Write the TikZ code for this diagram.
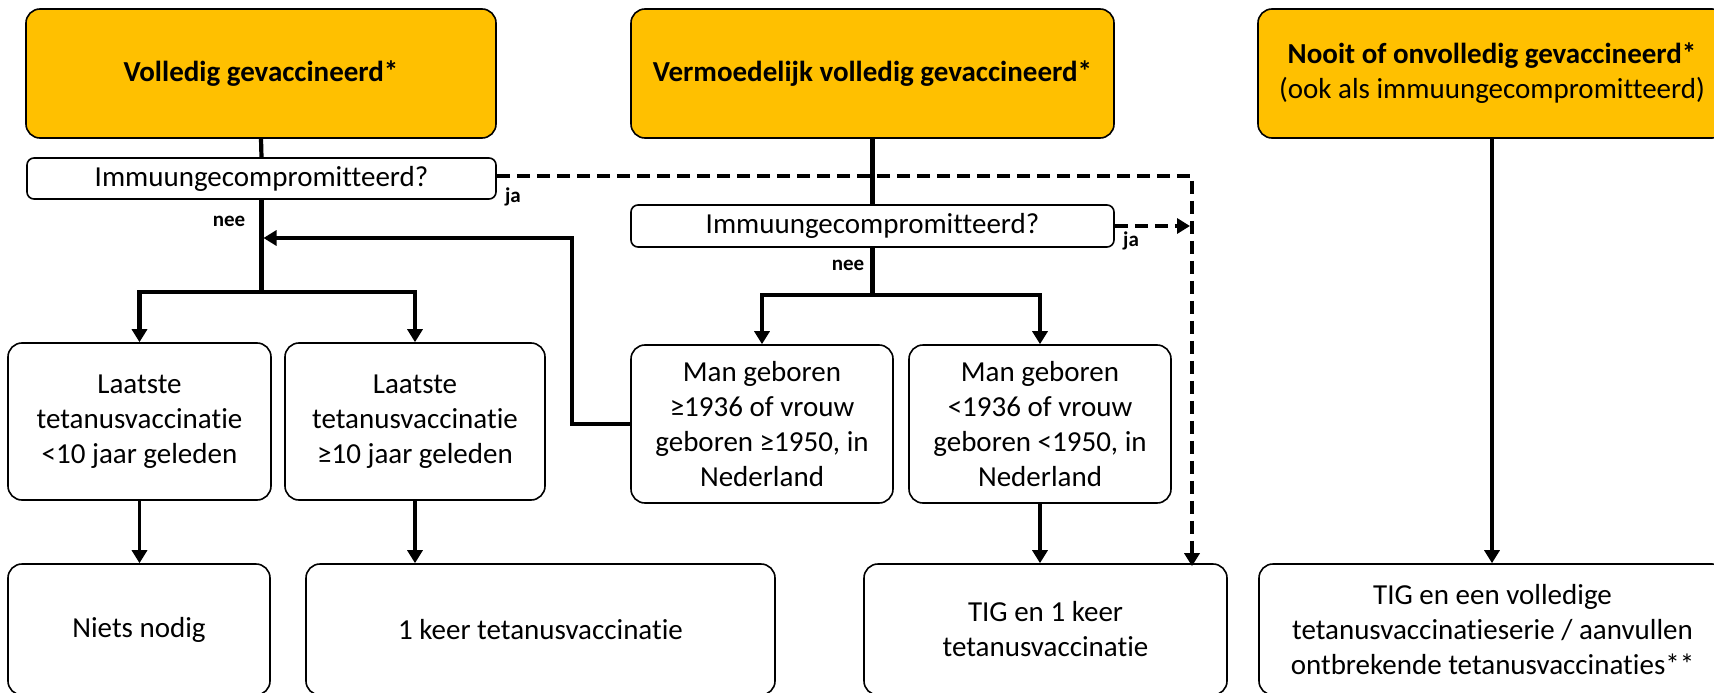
\documentclass[tikz,border=0pt]{standalone}
\usepackage{fontspec}
\setmainfont{Carlito}[Ligatures=NoCommon]
\usetikzlibrary{arrows.meta}
\definecolor{gold}{HTML}{FFC000}
\tikzset{
  box/.style={draw=black, line width=1.6pt, rounded corners=14pt, inner sep=0pt, align=center,
    font=\fontsize{29}{35}\selectfont},
  hbox/.style={box, fill=gold},
  qbox/.style={box, rounded corners=7pt},
  conn/.style={line width=4.2pt},
  thinconn/.style={line width=3.2pt},
  dconn/.style={line width=4.2pt, dash pattern=on 13pt off 7pt},
  arr/.style={-{Triangle[length=13pt,width=15pt]}},
  lbl/.style={inner sep=0pt, font=\bfseries\fontsize{21}{25}\selectfont},
}
\begin{document}
\begin{tikzpicture}[x=1pt,y=-1pt]
\useasboundingbox (0,0) rectangle (1714,693);

% header boxes
\node[hbox, minimum width=470pt, minimum height=129pt] (A) at (261,73.5) {\textbf{Volledig gevaccineerd*}};
\node[hbox, minimum width=483pt, minimum height=129pt] (B) at (872.5,73.5) {\textbf{Vermoedelijk volledig gevaccineerd*}};
\node[hbox, minimum width=468pt, minimum height=129pt] (C) at (1492,73.5) {\textbf{Nooit of onvolledig gevaccineerd*}\\(ook als immuungecompromitteerd)};

% question boxes
\node[qbox, minimum width=469pt, minimum height=41pt] (Q1) at (261.5,178.5) {Immuungecompromitteerd?};
\node[qbox, minimum width=483pt, minimum height=42pt] (Q2) at (872.5,226) {Immuungecompromitteerd?};

% middle boxes
\node[box, minimum width=263pt, minimum height=157pt] (L1) at (139.5,421.5) {Laatste\\tetanusvaccinatie\\<10 jaar geleden};
\node[box, minimum width=260pt, minimum height=157pt] (L2) at (415,421.5) {Laatste\\tetanusvaccinatie\\≥10 jaar geleden};
\node[box, minimum width=262pt, minimum height=158pt] (M1) at (762,424) {Man geboren\\≥1936 of vrouw\\geboren ≥1950, in\\Nederland};
\node[box, minimum width=262pt, minimum height=158pt] (M2) at (1040,424) {Man geboren\\<1936 of vrouw\\geboren <1950, in\\Nederland};

% bottom boxes
\node[box, minimum width=262pt, minimum height=131pt] (N) at (139,629.5) {Niets nodig};
\node[box, minimum width=469pt, minimum height=131pt] (K) at (540.5,629.5) {1 keer tetanusvaccinatie};
\node[box, minimum width=363pt, minimum height=131pt] (T1) at (1045.5,629.5) {TIG en 1 keer\\tetanusvaccinatie};
\node[box, minimum width=467pt, minimum height=131pt] (T2) at (1492.5,629.5) {TIG en een volledige\\tetanusvaccinatieserie / aanvullen\\ontbrekende tetanusvaccinaties**};

% labels
\node[lbl] (ja1) at (513,197) {ja};
\node[lbl] (ja2) at (1131,241) {ja};
\node[lbl] (nee1) at (229,221) {nee};
\node[lbl] (nee2) at (848,265) {nee};

% helper coordinates
\coordinate (j1) at (261.5,292);
\coordinate (j2) at (872.5,295);
\coordinate (r1) at (572,238);
\coordinate (d1) at (1192,176);

% dashed "ja" paths
\draw[dconn, arr] (Q1.east |- d1) -- (d1) -- ([yshift=-3pt]d1 |- T1.north);
\draw[dconn, arr] (Q2.east) -- ([xshift=-2pt]d1 |- Q2.east);

% solid connectors
\draw[conn] (A.south) -- (Q1.north);
\draw[conn] (B.south) -- (Q2.north);
\draw[conn] (Q1.south) -- (j1);
\draw[conn, arr] (j1) -| (L1.north);
\draw[conn, arr] (j1) -| (L2.north);
\draw[conn] (Q2.south) -- (j2);
\draw[conn, arr] (j2) -| (M1.north);
\draw[conn, arr] (j2) -| (M2.north);
\draw[conn, arr] (M1.west) -| (r1) -- ([xshift=2pt]Q1.south |- r1);

\draw[thinconn, arr] (L1.south) -- (L1.south |- N.north);
\draw[thinconn, arr] (L2.south) -- (L2.south |- K.north);
\draw[thinconn, arr] (M2.south) -- (M2.south |- T1.north);
\draw[thinconn, arr] (C.south) -- (C.south |- T2.north);
\end{tikzpicture}
\end{document}
